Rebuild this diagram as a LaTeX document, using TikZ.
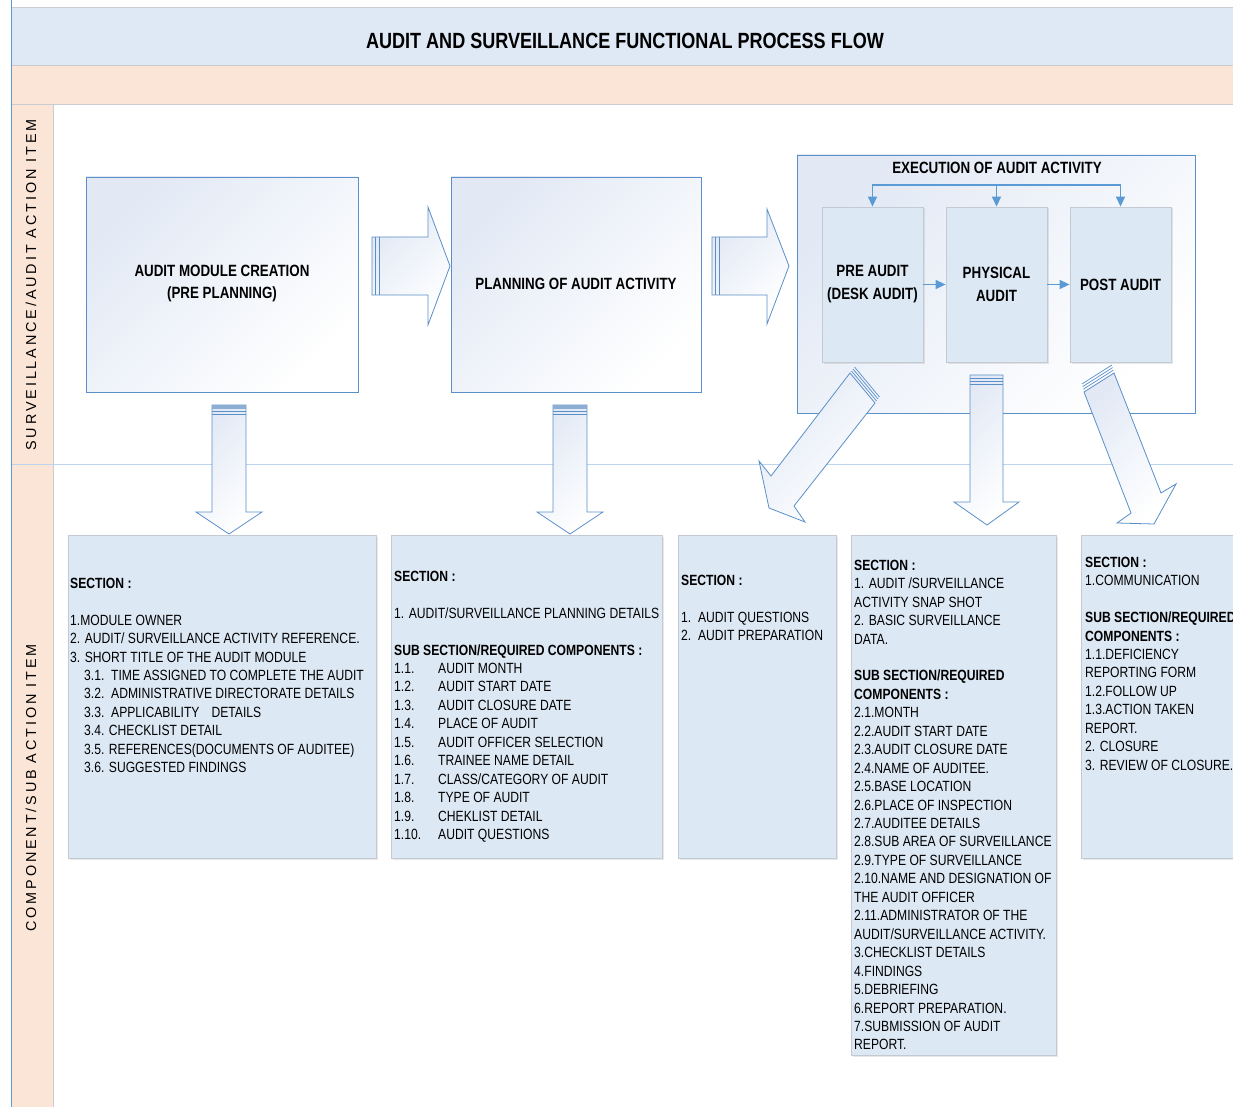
\documentclass[tikz,border=0pt]{standalone}
\usepackage{fontspec}
\setmainfont{Liberation Sans}[FakeStretch=0.82]
\newfontfamily\lanefont{Liberation Sans}[LetterSpace=20]
\usetikzlibrary{arrows.meta,shadows}
\definecolor{titleblue}{HTML}{DEE9F5}
\definecolor{peach}{HTML}{FBE5D6}
\definecolor{boxfill}{HTML}{DDE8F5}
\definecolor{boxline}{HTML}{C3CAD4}
\definecolor{edgeblue}{HTML}{5B8FC8}
\definecolor{conblue}{HTML}{5B9BD5}
\definecolor{lanesep}{HTML}{BDD4EE}
\definecolor{gradblue}{HTML}{E2E9F5}
\definecolor{stripe}{HTML}{8DAED3}
\definecolor{bandline}{HTML}{C9CDD2}
\begin{document}
\begin{tikzpicture}[x=1pt,y=-1pt,
  bodyfont/.style={font=\fontsize{14.8}{18.45}\selectfont},
  txt/.style={anchor=north west, inner sep=0pt, align=left, bodyfont},
  topbox/.style={draw=edgeblue, line width=0.8pt, top color=gradblue, bottom color=white, shading angle=45, inner sep=0pt},
  innerbox/.style={draw=boxline, line width=0.8pt, fill=boxfill, minimum width=101, minimum height=155, inner sep=0pt,
     align=center, font=\fontsize{16.3}{23}\selectfont\bfseries,
     drop shadow={opacity=0.18, shadow xshift=1.5pt, shadow yshift=-1.5pt}},
  lowbox/.style={draw=boxline, line width=0.8pt, fill=boxfill, inner sep=0pt,
     drop shadow={opacity=0.18, shadow xshift=1.5pt, shadow yshift=-2pt}},
  barrow/.style={draw=edgeblue, line width=0.8pt, top color=gradblue, bottom color=white, shading angle=45},
  stripeline/.style={draw=edgeblue, line width=0.7pt},
  conn/.style={draw=conblue, line width=1.5pt, -{Triangle[length=10pt,width=9pt]}},
  lbl/.style={align=center, font=\fontsize{16.3}{22}\selectfont\bfseries, inner sep=0pt}
]
\useasboundingbox (0,0) rectangle (1233,1107);
\clip (0,0) rectangle (1233,1107);
\fill[white] (0,0) rectangle (1233,1107);

% bands
\fill[titleblue] (11,7) rectangle (1233,65);
\fill[peach] (11,65) rectangle (1233,104);
\fill[peach] (11,104) rectangle (53,1107);
\draw[bandline, line width=0.8pt] (11,7) -- (1233,7);
\draw[bandline, line width=0.8pt] (11,65) -- (1233,65);
\draw[bandline, line width=0.8pt] (11,104) -- (1233,104);
\draw[bandline, line width=0.6pt] (53,104) -- (53,1107);
\draw[lanesep, line width=1pt] (11,464) -- (1233,464);
\draw[conblue, line width=0.8pt] (11,0) -- (11,1107);

\node[font=\fontsize{22}{26}\selectfont\bfseries, inner sep=0pt] (title) at (625,41) {AUDIT AND SURVEILLANCE FUNCTIONAL PROCESS FLOW};

\node[rotate=90, inner sep=0pt, font=\lanefont\fontsize{14.4}{16}\selectfont] (lane1) at (31,285) {SURVEILLANCE/AUDIT ACTION ITEM};
\node[rotate=90, inner sep=0pt, font=\lanefont\fontsize{14.4}{16}\selectfont] (lane2) at (31,788) {COMPONENT/SUB ACTION ITEM};

% top lane boxes
\node[topbox, minimum width=272, minimum height=215] (create) at (222,284.5) {};
\node[lbl] (createlbl) at (222,283.5) {AUDIT MODULE CREATION\\(PRE PLANNING)};
\node[topbox, minimum width=250, minimum height=215] (plan) at (576,284.5) {};
\node[lbl] (planlbl) at (576,284) {PLANNING OF AUDIT ACTIVITY};
\node[topbox, minimum width=398, minimum height=258] (exec) at (996,284) {};
\node[lbl] (execlbl) at (997,168) {EXECUTION OF AUDIT ACTIVITY};

\node[innerbox] (pre) at (872.5,284.5) {PRE AUDIT\\(DESK AUDIT)};
\node[innerbox] (phys) at (996.5,284.5) {PHYSICAL\\AUDIT};
\node[innerbox] (post) at (1120.5,284.5) {POST AUDIT};

\coordinate (hub) at (996.5,185);
\draw[conn] (hub) -| (pre.north);
\draw[conn] (hub) -| (post.north);
\draw[conn] (hub) -- (phys.north);
\draw[conn] (pre.east) -- (phys.west);
\draw[conn] (phys.east) -- (post.west);

% horizontal block arrows
\path[barrow] (372,237) -- (428,237) -- (428,207) -- (450,266) -- (428,325) -- (428,295) -- (372,295) -- cycle;
\draw[stripeline] (375.5,237) -- (375.5,295);
\draw[stripeline] (379,237) -- (379,295);
\path[barrow] (712,237) -- (767,237) -- (767,209) -- (789,266) -- (767,324) -- (767,295) -- (712,295) -- cycle;
\draw[stripeline] (715.5,237) -- (715.5,295);
\draw[stripeline] (719,237) -- (719,295);

% vertical block arrows
\path[barrow] (212,405) -- (246,405) -- (246,512) -- (262,512) -- (229,534) -- (196,512) -- (212,512) -- cycle;
\fill[stripe] (212,405) rectangle (246,408.5);
\draw[stripeline] (212,411.5) -- (246,411.5);
\draw[stripeline] (212,414.5) -- (246,414.5);
\path[barrow] (553,405) -- (587,405) -- (587,512) -- (603,512) -- (570,534) -- (537,512) -- (553,512) -- cycle;
\fill[stripe] (553,405) rectangle (587,408.5);
\draw[stripeline] (553,411.5) -- (587,411.5);
\draw[stripeline] (553,414.5) -- (587,414.5);
\path[barrow] (970,375) -- (1003,375) -- (1003,502) -- (1019,502) -- (987,525) -- (954,502) -- (970,502) -- cycle;
\draw[stripeline] (970,378) -- (1003,378);
\draw[stripeline] (970,381.5) -- (1003,381.5);
\draw[stripeline] (970,384.5) -- (1003,384.5);

% diagonal block arrows
\path[barrow] (850,373) -- (771,476) -- (759,461) -- (769,508) -- (805,522) -- (794,506) -- (875,403) -- cycle;
\draw[stripeline] (851.5,371) -- (876.5,401);
\draw[stripeline] (853,369) -- (878,399);
\draw[stripeline] (854.5,367) -- (879.5,397);
\path[barrow] (1084,392) -- (1131,513) -- (1117,523) -- (1154,524) -- (1176,484) -- (1161,493) -- (1114,373) -- cycle;
\draw[stripeline] (1083.3,389.2) -- (1113.3,370.2);
\draw[stripeline] (1082.6,386.6) -- (1112.6,367.6);
\draw[stripeline] (1081.9,384) -- (1111.9,365);

% bottom lane boxes
\node[lowbox, minimum width=308, minimum height=323] (boxA) at (222,696.5) {};
\node[lowbox, minimum width=271, minimum height=323] (boxB) at (526.5,696.5) {};
\node[lowbox, minimum width=158, minimum height=323] (boxC) at (757,696.5) {};
\node[lowbox, minimum width=205, minimum height=520] (boxD) at (953.5,795) {};
\node[lowbox, minimum width=169, minimum height=323] (boxE) at (1165.5,696.5) {};

\node[txt] (tA) at (70,577.7) {\textbf{SECTION :}\\[18.45pt]
1.MODULE OWNER\\
2. AUDIT/ SURVEILLANCE ACTIVITY REFERENCE.\\
3. SHORT TITLE OF THE AUDIT MODULE\\
\hspace*{14pt}3.1.\ \ TIME ASSIGNED TO COMPLETE THE AUDIT\\
\hspace*{14pt}3.2.\ \ ADMINISTRATIVE DIRECTORATE DETAILS\\
\hspace*{14pt}3.3.\ \ APPLICABILITY\hspace{12pt}DETAILS\\
\hspace*{14pt}3.4. CHECKLIST DETAIL\\
\hspace*{14pt}3.5. REFERENCES(DOCUMENTS OF AUDITEE)\\
\hspace*{14pt}3.6. SUGGESTED FINDINGS};

\node[txt] (tB) at (394,570.7) {\textbf{SECTION :}\\[18.45pt]
1. AUDIT/SURVEILLANCE PLANNING DETAILS\\[18.45pt]
\textbf{SUB SECTION/REQUIRED COMPONENTS :}\\
\makebox[44pt][l]{1.1.}AUDIT MONTH\\
\makebox[44pt][l]{1.2.}AUDIT START DATE\\
\makebox[44pt][l]{1.3.}AUDIT CLOSURE DATE\\
\makebox[44pt][l]{1.4.}PLACE OF AUDIT\\
\makebox[44pt][l]{1.5.}AUDIT OFFICER SELECTION\\
\makebox[44pt][l]{1.6.}TRAINEE NAME DETAIL\\
\makebox[44pt][l]{1.7.}CLASS/CATEGORY OF AUDIT\\
\makebox[44pt][l]{1.8.}TYPE OF AUDIT\\
\makebox[44pt][l]{1.9.}CHEKLIST DETAIL\\
\makebox[44pt][l]{1.10.}AUDIT QUESTIONS};

\node[txt] (tC) at (681,574.7) {\textbf{SECTION :}\\[18.45pt]
1.\ \ AUDIT QUESTIONS\\
2.\ \ AUDIT PREPARATION};

\node[txt] (tD) at (854,559.7) {\textbf{SECTION :}\\
1. AUDIT /SURVEILLANCE\\
ACTIVITY SNAP SHOT\\
2. BASIC SURVEILLANCE\\
DATA.\\[18.45pt]
\textbf{SUB SECTION/REQUIRED}\\
\textbf{COMPONENTS :}\\
2.1.MONTH\\
2.2.AUDIT START DATE\\
2.3.AUDIT CLOSURE DATE\\
2.4.NAME OF AUDITEE.\\
2.5.BASE LOCATION\\
2.6.PLACE OF INSPECTION\\
2.7.AUDITEE DETAILS\\
2.8.SUB AREA OF SURVEILLANCE\\
2.9.TYPE OF SURVEILLANCE\\
2.10.NAME AND DESIGNATION OF\\
THE AUDIT OFFICER\\
2.11.ADMINISTRATOR OF THE\\
AUDIT/SURVEILLANCE ACTIVITY.\\
3.CHECKLIST DETAILS\\
4.FINDINGS\\
5.DEBRIEFING\\
6.REPORT PREPARATION.\\
7.SUBMISSION OF AUDIT\\
REPORT.};

\node[txt] (tE) at (1085,556.7) {\textbf{SECTION :}\\
1.COMMUNICATION\\[18.45pt]
\textbf{SUB SECTION/REQUIRED}\\
\textbf{COMPONENTS :}\\
1.1.DEFICIENCY\\
REPORTING FORM\\
1.2.FOLLOW UP\\
1.3.ACTION TAKEN\\
REPORT.\\
2. CLOSURE\\
3. REVIEW OF CLOSURE.};
\end{tikzpicture}
\end{document}
